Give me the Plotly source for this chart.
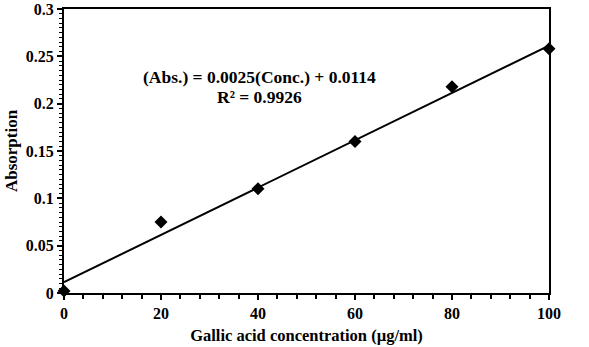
import plotly.graph_objects as go

conc = [0, 20, 40, 60, 80, 100]
absorb = [0.002, 0.075, 0.110, 0.160, 0.218, 0.258]
slope = 0.0025
intercept = 0.0114
fit_x = [0, 100]
fit_y = [slope * x + intercept for x in fit_x]

font = "Liberation Serif"
fig = go.Figure()
fig.add_trace(go.Scatter(x=fit_x, y=fit_y, mode="lines",
                         line=dict(color="black", width=2), showlegend=False))
fig.add_trace(go.Scatter(x=conc, y=absorb, mode="markers",
                         marker=dict(symbol="diamond", size=10, color="black"),
                         showlegend=False, cliponaxis=False))

fig.add_annotation(x=40.4, y=0.2285, xref="x", yref="y", showarrow=False,
                   text="<b>(Abs.) = 0.0025(Conc.) + 0.0114</b>",
                   font=dict(family=font, size=17.5, color="black"))
fig.add_annotation(x=40.4, y=0.2067, xref="x", yref="y", showarrow=False,
                   text="<b>R² = 0.9926</b>",
                   font=dict(family=font, size=17.5, color="black"))

fig.update_layout(
    width=589, height=347,
    margin=dict(l=64, r=40, t=9, b=54),
    paper_bgcolor="white", plot_bgcolor="white",
    font=dict(family=font, color="black"),
)
fig.update_xaxes(range=[0, 100], dtick=20, tick0=0, showgrid=False, zeroline=False,
                 automargin=False,
                 showline=True, linecolor="black", linewidth=2, mirror=True,
                 ticks="outside", ticklen=5, tickwidth=1.5, tickcolor="black",
                 minor=dict(dtick=4, ticks="outside", ticklen=4, tickwidth=1.5, tickcolor="black"),
                 tickfont=dict(family=font, size=16, color="black"),
                 tickprefix="<b>", ticksuffix="</b>",
                 title=dict(text="<b>Gallic acid concentration (µg/ml)</b>",
                            font=dict(family=font, size=16.5, color="black"), standoff=8))
fig.update_yaxes(range=[0, 0.3], dtick=0.05, tick0=0, showgrid=False, zeroline=False,
                 automargin=False,
                 showline=True, linecolor="black", linewidth=2, mirror=True,
                 ticks="outside", ticklen=5, tickwidth=1.5, tickcolor="black",
                 minor=dict(dtick=0.005, ticks="outside", ticklen=3, tickwidth=1, tickcolor="black"),
                 tickfont=dict(family=font, size=16, color="black"),
                 tickprefix="<b>", ticksuffix="</b>",
                 title=dict(text="<b>Absorption</b>",
                            font=dict(family=font, size=17, color="black"), standoff=4))
fig.write_html("out.html")
